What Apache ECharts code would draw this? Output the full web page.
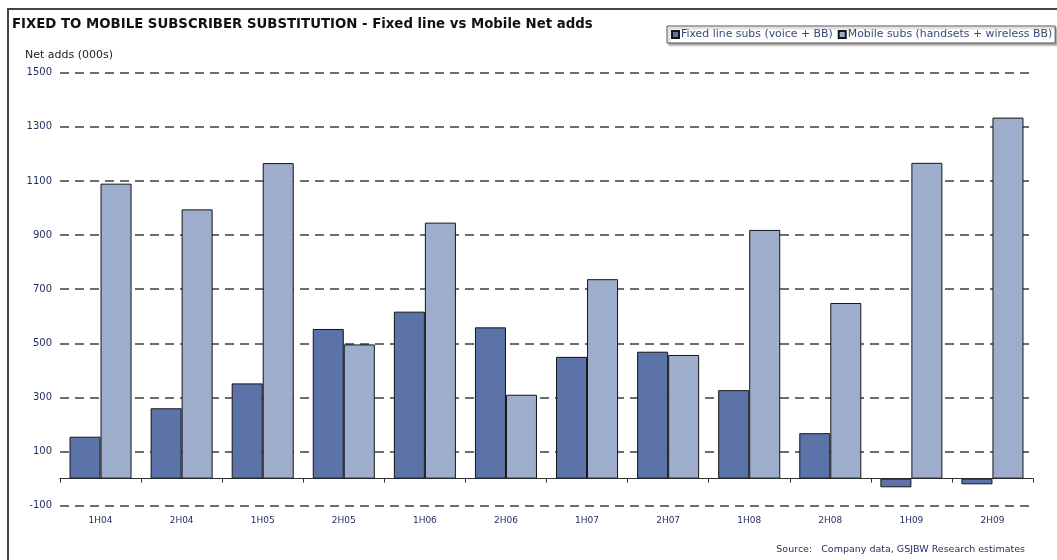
<!DOCTYPE html>
<html>
<head>
<meta charset="utf-8">
<script src="https://cdn.jsdelivr.net/npm/echarts@6/dist/echarts.min.js"></script>
<style>
  html, body { margin: 0; padding: 0; background: #ffffff; }
  #chart { width: 1057px; height: 560px; }
</style>
</head>
<body>
<div id="chart"></div>
<script>
// Half-year periods
const periods = ['1H04', '2H04', '1H05', '2H05', '1H06', '2H06', '1H07', '2H07', '1H08', '2H08', '1H09', '2H09'];
// Net adds in thousands
const fixedLineSubs = [155, 260, 352, 553, 617, 559, 450, 469, 327, 168, -32, -21];
const mobileSubs = [1090, 995, 1166, 496, 946, 310, 737, 457, 919, 649, 1167, 1334];
const seriesNames = ['Fixed line subs (voice + BB)', 'Mobile subs (handsets + wireless BB)'];

const FONT = 'DejaVu Sans, Verdana, sans-serif';
const LABEL_COLOR = '#1f2a5c';

const chart = echarts.init(document.getElementById('chart'), null, { renderer: 'canvas' });

chart.setOption({
  backgroundColor: '#ffffff',
  animation: false,
  title: {
    text: 'FIXED TO MOBILE SUBSCRIBER SUBSTITUTION - Fixed line vs Mobile Net adds',
    left: 7,
    top: 13,
    textStyle: { fontFamily: FONT, fontSize: 13.3, fontWeight: 'bold', color: '#111111' }
  },
  legend: {
    data: seriesNames,
    left: 667,
    top: 26,
    padding: [3, 3, 3, 4],
    itemWidth: 7,
    itemHeight: 7,
    itemGap: 5,
    icon: 'rect',
    borderColor: '#555555',
    borderWidth: 1,
    backgroundColor: '#ffffff',
    shadowColor: 'rgba(0,0,0,0.35)',
    shadowBlur: 2,
    shadowOffsetX: 2,
    shadowOffsetY: 2,
    textStyle: { fontFamily: FONT, fontSize: 10.9, color: '#3a4878', padding: [0, 0, 0, -3] }
  },
  grid: { left: 60, right: 24, top: 72.7, bottom: 54.3, containLabel: false },
  xAxis: {
    type: 'category',
    data: periods,
    axisLine: { onZero: true, lineStyle: { color: '#333333', width: 1 } },
    axisTick: { show: true, inside: false, length: 4, lineStyle: { color: '#333333' } },
    axisLabel: { margin: 10, fontFamily: FONT, fontSize: 9, color: LABEL_COLOR }
  },
  yAxis: {
    type: 'value',
    min: -100,
    max: 1500,
    interval: 200,
    axisLine: { show: false },
    axisTick: { show: false },
    axisLabel: {
      margin: 8,
      fontFamily: FONT,
      fontSize: 10,
      color: LABEL_COLOR,
      formatter: (v) => String(v)
    },
    splitLine: { show: true, lineStyle: { color: '#6e6e6e', width: 2, type: [9, 6] } }
  },
  series: [
    {
      name: seriesNames[0],
      type: 'bar',
      data: fixedLineSubs,
      barGap: '0%',
      barCategoryGap: '23.5%',
      itemStyle: { color: '#5b73a8', borderColor: '#151515', borderWidth: 1 }
    },
    {
      name: seriesNames[1],
      type: 'bar',
      data: mobileSubs,
      barGap: '0%',
      barCategoryGap: '23.5%',
      itemStyle: { color: '#9eadcb', borderColor: '#151515', borderWidth: 1 }
    }
  ],
  graphic: [
    {
      type: 'rect',
      shape: { x: 8, y: 9, width: 1200, height: 700 },
      style: { fill: 'none', stroke: '#444444', lineWidth: 2 },
      silent: true
    },
    {
      type: 'text',
      left: 25,
      top: 50,
      style: { text: 'Net adds (000s)', fontFamily: FONT, fontSize: 11, fill: '#222222' }
    },
    {
      type: 'text',
      right: 32,
      top: 545,
      style: { text: 'Source:   Company data, GSJBW Research estimates', fontFamily: FONT, fontSize: 9.5, fill: '#1f2a5c' }
    }
  ]
});
</script>
</body>
</html>
